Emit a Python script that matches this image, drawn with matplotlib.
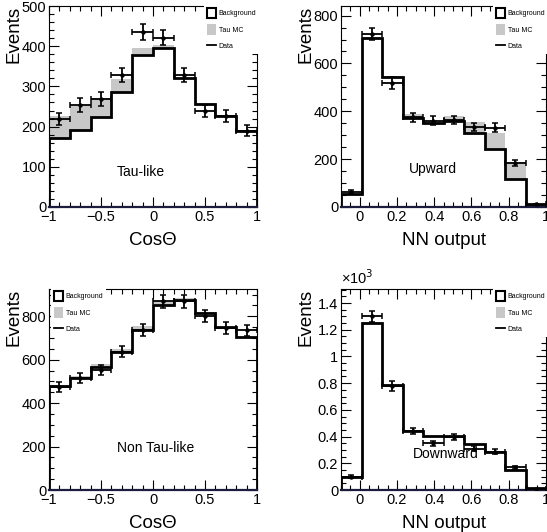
import numpy as np
import matplotlib.pyplot as plt
from matplotlib.patches import Patch
from matplotlib.lines import Line2D
from matplotlib.ticker import MultipleLocator, FuncFormatter

plt.rcParams['font.family'] = ['Liberation Sans', 'DejaVu Sans']

# -------------------------
# Data
# -------------------------
cos_edges = np.linspace(-1.0, 1.0, 11)
nn_edges = np.linspace(-0.1, 1.0, 11)

# Tau-like (CosTheta)
taulike_bg = [172, 192, 224, 286, 378, 396, 320, 257, 226, 190]
taulike_tau = [54, 59, 46, 32, 18, 6, 2, 2, 2, 2]
taulike_data = [219, 253, 269, 328, 435, 421, 328, 238, 226, 190]
taulike_err = [16, 17, 17, 18, 19, 19, 18, 15, 15, 14]

# Upward (NN output)
upward_bg = [53, 705, 545, 373, 350, 359, 311, 243, 118, 10]
upward_tau = [2, 5, 4, 16, 9, 23, 46, 67, 72, 4]
upward_data = [63, 722, 519, 375, 361, 364, 334, 331, 185, 11]
upward_err = [8, 26, 25, 19, 18, 18, 18, 18, 13, 3]

# Non Tau-like (CosTheta)
nontau_bg = [477, 515, 566, 638, 738, 854, 874, 815, 751, 705]
nontau_tau = [8, 11, 14, 13, 16, 15, 9, 5, 2, 2]
nontau_data = [474, 515, 554, 638, 738, 869, 869, 800, 746, 735]
nontau_err = [22, 23, 24, 25, 27, 29, 29, 28, 27, 27]

# Downward (NN output)
downward_bg = [95, 1250, 788, 445, 405, 405, 345, 288, 150, 12]
downward_tau = [2, 5, 5, 3, 3, 3, 3, 3, 8, 1]
downward_data = [100, 1300, 780, 445, 350, 400, 308, 288, 170, 8]
downward_err = [10, 40, 35, 22, 20, 22, 18, 18, 13, 3]

W, H = 547, 532


def px_axes(fig, left, right, top, bottom):
    # axes rectangle given in pixel coordinates of the reference
    return fig.add_axes([left / W, 1 - bottom / H, (right - left) / W, (bottom - top) / H])


def draw_panel(ax, edges, bg, tau, data, err, xlim, ylim, label, label_xy,
               xlabel, xmaj, xmin, ymaj, ymin, leg_loc, leg_anchor, ytick_fmt=None):
    bg = np.asarray(bg, float)
    tot = bg + np.asarray(tau, float)
    centers = 0.5 * (edges[1:] + edges[:-1])
    half = 0.5 * np.diff(edges)

    ax.stairs(tot, edges, baseline=bg, fill=True, color='#c8c8c8', lw=0, zorder=1)
    ax.stairs(bg, edges, baseline=0, color='black', lw=2.0, zorder=2)
    ax.errorbar(centers, data, xerr=half, yerr=err, fmt='o', ms=2.2, color='black',
                lw=1.3, capsize=2, capthick=1.1, zorder=3)

    ax.set_xlim(*xlim)
    ax.set_ylim(*ylim)
    ax.xaxis.set_major_locator(MultipleLocator(xmaj))
    ax.xaxis.set_minor_locator(MultipleLocator(xmin))
    ax.yaxis.set_major_locator(MultipleLocator(ymaj))
    ax.yaxis.set_minor_locator(MultipleLocator(ymin))
    ax.xaxis.set_major_formatter(FuncFormatter(lambda v, p: f'{v:g}'.replace('-', '\u2212')))
    if ytick_fmt is not None:
        ax.yaxis.set_major_formatter(ytick_fmt)
    ax.tick_params(which='both', direction='in', top=True, right=True, labelsize=10.5,
                   pad=2, width=0.8)
    ax.tick_params(which='major', length=7)
    ax.tick_params(which='minor', length=3.5)
    for s in ['top', 'right', 'left']:
        ax.spines[s].set_linewidth(0.8)
    ax.spines['bottom'].set_linewidth(1.6)
    ax.spines['bottom'].set_color('#1c1c3c')

    ax.set_xlabel(xlabel, fontsize=13.5)
    ax.xaxis.set_label_coords(0.5, -0.165)
    ax.xaxis.label.set_va('center')
    ax.set_ylabel('Events', fontsize=13.5, loc='top')
    ax.yaxis.set_label_coords(-0.17, 1.0)
    ax.yaxis.label.set_va('center')

    ax.text(label_xy[0], label_xy[1], label, transform=ax.transAxes,
            ha='center', va='center', fontsize=10)

    handles = [Patch(facecolor='white', edgecolor='black', lw=1.5),
               Patch(facecolor='#c8c8c8', edgecolor='none'),
               Line2D([], [], color='black', lw=1.3)]
    leg = ax.legend(handles, ['Background', 'Tau MC', 'Data'], loc=leg_loc,
                    bbox_to_anchor=leg_anchor, fontsize=5, frameon=True,
                    framealpha=1, facecolor='white', edgecolor='none', fancybox=False,
                    handlelength=1.3, handleheight=1.9, labelspacing=0.9,
                    handletextpad=0.4, borderpad=0.4, borderaxespad=0)
    leg.set_zorder(10)


fig = plt.figure(figsize=(W / 100, H / 100), dpi=100)

ax1 = px_axes(fig, 49, 257, 6, 207)
draw_panel(ax1, cos_edges, taulike_bg, taulike_tau, taulike_data, taulike_err,
           (-1, 1), (0, 500), 'Tau-like', (0.44, 0.175), 'Cos\u0398',
           0.5, 0.1, 100, 20, 'upper right', (1.01, 1.005))

ax2 = px_axes(fig, 341, 546, 6, 207)
draw_panel(ax2, nn_edges, upward_bg, upward_tau, upward_data, upward_err,
           (-0.1, 1.0), (0, 840), 'Upward', (0.45, 0.19), 'NN output',
           0.2, 0.05, 200, 50, 'upper right', (1.01, 1.005))

ax3 = px_axes(fig, 49, 257, 289, 490)
draw_panel(ax3, cos_edges, nontau_bg, nontau_tau, nontau_data, nontau_err,
           (-1, 1), (0, 926), 'Non Tau-like', (0.515, 0.21), 'Cos\u0398',
           0.5, 0.1, 200, 50, 'upper left', (0.01, 1.005))

ax4 = px_axes(fig, 341, 546, 289, 490)
draw_panel(ax4, nn_edges, downward_bg, downward_tau, downward_data, downward_err,
           (-0.1, 1.0), (0, 1505), 'Downward', (0.51, 0.18), 'NN output',
           0.2, 0.05, 200, 50, 'upper right', (1.01, 1.005),
           ytick_fmt=FuncFormatter(lambda v, p: f'{v / 1000:g}'))
ax4.text(0.0, 1.01, '\u00d710$^{3}$', transform=ax4.transAxes, ha='left', va='bottom',
         fontsize=10.5)

fig.savefig('out.png', dpi=100)
